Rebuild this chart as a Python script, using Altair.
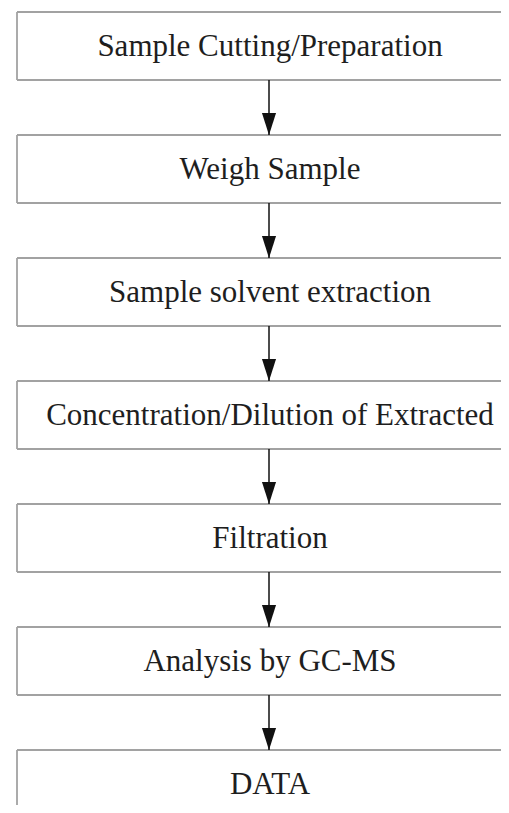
import altair as alt
import pandas as pd

steps = [
    "Sample Cutting/Preparation",
    "Weigh Sample",
    "Sample solvent extraction",
    "Concentration/Dilution of Extracted",
    "Filtration",
    "Analysis by GC-MS",
    "DATA",
]

HALF = 0.2764  # half box height in step units

W, H = 493, 797

boxes = pd.DataFrame({
    "step": steps,
    "idx": list(range(len(steps))),
})
boxes["top"] = boxes["idx"] - HALF
boxes["bottom"] = boxes["idx"] + HALF
boxes["xl"] = 17
boxes["xr"] = 8 + W
boxes["xc"] = 270

arrows = pd.DataFrame({
    "from": steps[:-1],
    "to": steps[1:],
    "idx": list(range(len(steps) - 1)),
})
arrows["y1"] = arrows["idx"] + HALF
arrows["y2"] = arrows["idx"] + 1 - HALF
arrows["x"] = 269

xs = alt.Scale(domain=[8, 8 + W], range=[0, W])
ys = alt.Scale(domain=[(8 - 46) / 123, (8 + H - 46) / 123], range=[0, H])

border = dict(color="#a2a2a2", strokeWidth=1.8)

tops = alt.Chart(boxes).mark_rule(**border).encode(
    x=alt.X("xl:Q", scale=xs, axis=None),
    x2="xr:Q",
    y=alt.Y("top:Q", scale=ys, axis=None),
)
bottoms = alt.Chart(boxes).transform_filter(
    alt.datum.bottom < (8 + H - 46) / 123
).mark_rule(**border).encode(
    x=alt.X("xl:Q", scale=xs, axis=None),
    x2="xr:Q",
    y=alt.Y("bottom:Q", scale=ys, axis=None),
)
lefts = alt.Chart(boxes).mark_rule(clip=True, **border).encode(
    x=alt.X("xl:Q", scale=xs, axis=None),
    y=alt.Y("top:Q", scale=ys, axis=None),
    y2="bottom:Q",
)

labels = alt.Chart(boxes).mark_text(
    font="Liberation Serif", fontSize=31, color="#1e1e1e",
    align="center", baseline="alphabetic", dy=10,
).encode(
    x=alt.X("xc:Q", scale=xs, axis=None),
    y=alt.Y("idx:Q", scale=ys, axis=None),
    text="step:N",
)

lines = alt.Chart(arrows).mark_rule(color="#111111", strokeWidth=1.5).encode(
    x=alt.X("x:Q", scale=xs, axis=None),
    y=alt.Y("y1:Q", scale=ys, axis=None),
    y2="y2:Q",
)

heads = alt.Chart(arrows).mark_point(
    shape="M -0.64 -2 L 0.64 -2 L 0 0 Z", size=484, filled=True,
    color="#111111", opacity=1,
).encode(
    x=alt.X("x:Q", scale=xs, axis=None),
    y=alt.Y("y2:Q", scale=ys, axis=None),
)

chart = alt.layer(tops, bottoms, lefts, lines, heads, labels).properties(
    width=W, height=H, padding=0, autosize=alt.AutoSizeParams(type="none"),
).configure_view(stroke=None)

chart.save("out.html", embed_options={"renderer": "svg", "actions": False})
